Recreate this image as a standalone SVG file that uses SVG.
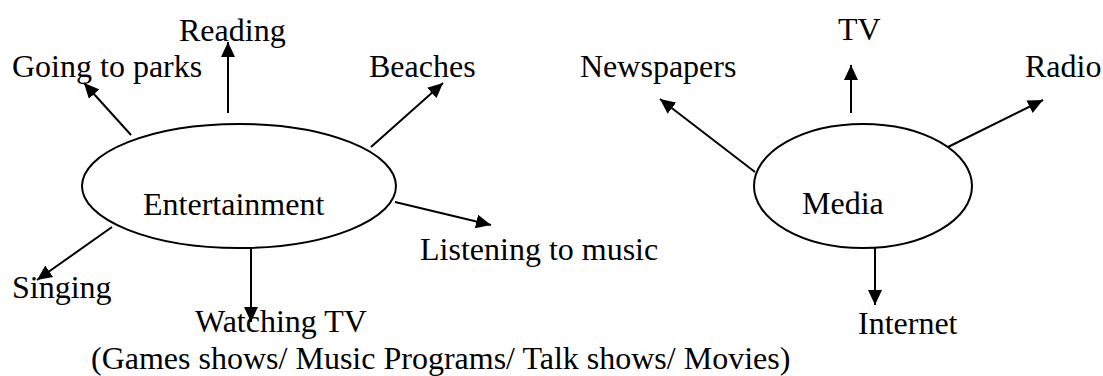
<svg xmlns="http://www.w3.org/2000/svg" width="1103" height="376" viewBox="0 0 1103 376">
<style>
text{font-family:"Liberation Serif","Times New Roman",serif;font-size:32px;fill:#000}
.n{fill:#fff;stroke:#000;stroke-width:2}
.c{stroke:#000;stroke-width:2;fill:none;marker-end:url(#ah)}
</style>
<defs>
<marker id="ah" viewBox="0 0 15 14" refX="15" refY="7" markerWidth="15" markerHeight="14" markerUnits="userSpaceOnUse" orient="auto">
<path d="M0,0 L15,7 L0,14 z" fill="#000"/>
</marker>
</defs>
<rect width="1103" height="376" fill="#fff"/>
<g id="connectors">
<line class="c" x1="131" y1="135" x2="84" y2="83"/>
<line class="c" x1="228" y1="113" x2="228" y2="42"/>
<line class="c" x1="371" y1="147" x2="443" y2="83"/>
<line class="c" x1="112" y1="227" x2="37" y2="280"/>
<line class="c" x1="251" y1="248" x2="251" y2="322"/>
<line class="c" x1="395" y1="202" x2="491" y2="225"/>
<line class="c" x1="755" y1="172" x2="660" y2="99"/>
<line class="c" x1="851" y1="113" x2="851" y2="65"/>
<line class="c" x1="948" y1="147" x2="1043" y2="100"/>
<line class="c" x1="875" y1="248" x2="875" y2="305"/>
</g>
<g id="entertainment">
<ellipse class="n" cx="239" cy="186" rx="157" ry="62"/>
<text x="143" y="215">Entertainment</text>
</g>
<g id="going-to-parks"><text x="12" y="77">Going to parks</text></g>
<g id="reading"><text x="179" y="41">Reading</text></g>
<g id="beaches"><text x="369" y="77">Beaches</text></g>
<g id="singing"><text x="12" y="298">Singing</text></g>
<g id="watching-tv">
<text x="195" y="332">Watching TV<tspan x="91" y="369">(Games shows/ Music Programs/ Talk shows/ Movies)</tspan></text>
</g>
<g id="listening"><text x="420" y="260">Listening to music</text></g>
<g id="media">
<ellipse class="n" cx="863" cy="186" rx="109" ry="62"/>
<text x="802" y="214">Media</text>
</g>
<g id="newspapers"><text x="580" y="77">Newspapers</text></g>
<g id="tv"><text x="838" y="40">TV</text></g>
<g id="radio"><text x="1025" y="77">Radio</text></g>
<g id="internet"><text x="858" y="334">Internet</text></g>
</svg>
